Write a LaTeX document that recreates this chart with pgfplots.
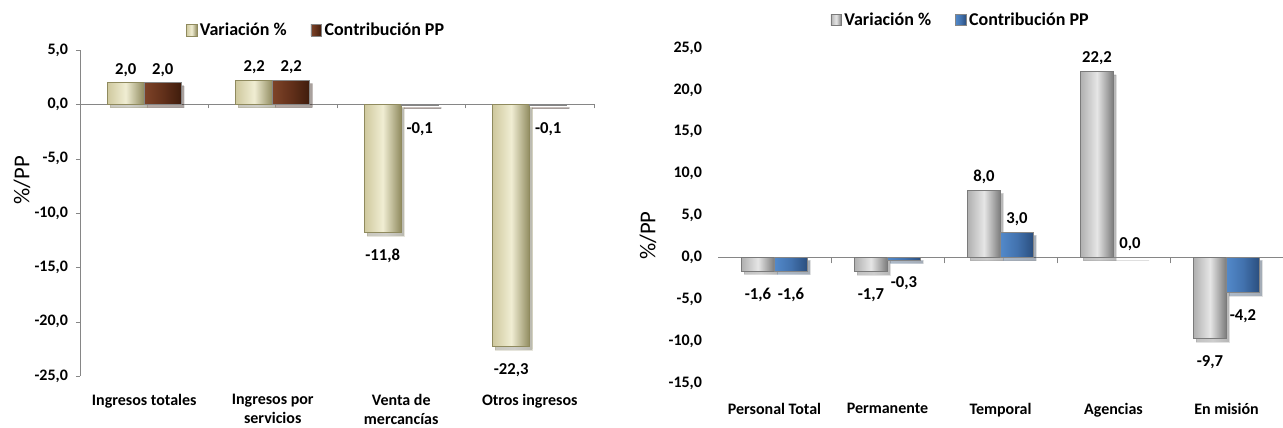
\documentclass[border=0pt]{standalone}
\usepackage{pgfplots}
\pgfplotsset{compat=1.18}
\usetikzlibrary{shadows}
\usepackage{fontspec}
\setmainfont{Carlito}
\definecolor{khakiL}{HTML}{CFC99E}
\definecolor{khakiM}{HTML}{F0EDD3}
\definecolor{khakiR}{HTML}{8F8A5E}
\definecolor{brownL}{HTML}{7E4328}
\definecolor{brownM}{HTML}{62301A}
\definecolor{brownR}{HTML}{3F1C0C}
\definecolor{grayL}{HTML}{B0B0B0}
\definecolor{grayM}{HTML}{E6E6E6}
\definecolor{grayR}{HTML}{7A7A7A}
\definecolor{blueL}{HTML}{5289CA}
\definecolor{blueM}{HTML}{4272AE}
\definecolor{blueR}{HTML}{2A4E7E}
\definecolor{axgray}{HTML}{868686}
\pgfplotsset{
  common/.style={
    scale only axis,
    /pgf/number format/assume math mode=true,
    /pgf/number format/fixed,
    /pgf/number format/fixed zerofill,
    /pgf/number format/precision=1,
    /pgf/number format/use comma,
    tick label style={font=\fontsize{12}{14}\selectfont\bfseries},
    ybar=0pt,
    nodes near coords={\pgfmathprintnumber[fixed,fixed zerofill,precision=1,use comma,assume math mode=true]{\pgfplotspointmeta}},
    every node near coord/.append style={font=\fontsize{12.5}{14}\selectfont\bfseries, inner sep=4.5pt},
    tick align=outside,
    axis x line*=middle,
    axis line style={draw=axgray},
    legend columns=2,
    legend style={draw=none, fill=none, font=\fontsize{13.5}{15}\selectfont\bfseries,
      /tikz/every even column/.append style={column sep=16pt}},
    legend image code/.code={\filldraw[##1] (0pt,-4pt) rectangle (8pt,4.5pt);},
    ylabel={\%/PP},
    ylabel style={font=\fontsize{17}{19}\selectfont},
  },
  shad/.style={drop shadow={shadow xshift=2pt, shadow yshift=-2.5pt, opacity=0.22, fill=black}},
  varL/.style={draw=khakiR, left color=khakiL, right color=khakiR, middle color=khakiM},
  conL/.style={draw=axgray, left color=brownL, right color=brownR, middle color=brownM},
  varR/.style={draw=grayR, left color=grayL, right color=grayR, middle color=grayM},
  conR/.style={draw=axgray, left color=blueL, right color=blueR, middle color=blueM},
  neg/.style={every node near coord/.append style={yshift=-8pt}},
  pos/.style={},
}
% one bar: style, shift, coordinate, label placement
\newcommand\onebar[4]{\addplot[forget plot, shad, #1, bar shift=#2, #4] coordinates {#3};}
\begin{document}
\begin{tikzpicture}
\useasboundingbox (0,0) rectangle (962.25pt,321pt);
% ---------- left panel ----------
\begin{axis}[common,
  at={(60pt,39pt)}, anchor=south west,
  width=385.5pt, height=244.5pt,
  xmin=-0.5, xmax=3.5, ymin=-25, ymax=5,
  ytick={-25,-20,...,5},
  axis y line*=left,
  y axis line style={draw=axgray},
  ytick style={draw=axgray},
  major tick length=3pt,
  yticklabel style={xshift=-2.5pt},
  bar width=27.75pt,
  xtick={0.5,1.5,2.5,3.5}, xticklabels={},
  xtick style={draw=axgray},
  extra x ticks={0,1,2,3},
  extra x tick labels={Ingresos totales,{Ingresos por\\servicios},{Venta de\\mercancías},Otros ingresos},
  extra x tick style={major tick length=0pt, tick label style={align=center, yshift=-214pt}},
  ylabel style={at={(axis description cs:-0.113,0.60)}, anchor=center},
  legend style={at={(0.46,1.02)}, anchor=south},
]
% Variación %
\onebar{varL}{-13.875pt}{(0,2.0)}{pos}
\onebar{varL}{-13.875pt}{(1,2.2)}{pos}
\onebar{varL}{-13.875pt}{(2,-11.8)}{neg}
\onebar{varL}{-13.875pt}{(3,-22.3)}{neg}
% Contribución PP
\onebar{conL}{13.875pt}{(0,2.0)}{pos}
\onebar{conL}{13.875pt}{(1,2.2)}{pos}
\onebar{conL}{13.875pt}{(2,-0.1)}{neg}
\onebar{conL}{13.875pt}{(3,-0.1)}{neg}
\addlegendimage{varL}
\addlegendentry{Variación \%}
\addlegendimage{conL}
\addlegendentry{Contribución PP}
\end{axis}
% ---------- right panel ----------
\begin{axis}[common,
  at={(538.5pt,33.75pt)}, anchor=south west,
  width=423.75pt, height=251.25pt,
  xmin=-0.5, xmax=4.5, ymin=-15, ymax=25,
  ytick={-15,-10,...,25},
  axis y line*=left,
  y axis line style={draw=none},
  ytick style={draw=none},
  major tick length=4.5pt,
  yticklabel style={xshift=-4pt},
  bar width=24.75pt,
  xtick={0.5,1.5,2.5,3.5,4.5}, xticklabels={},
  xtick style={draw=axgray},
  extra x ticks={0,1,2,3,4},
  extra x tick labels={Personal Total,Permanente,Temporal,Agencias,En misión},
  extra x tick style={major tick length=0pt, tick label style={yshift=-106pt}},
  ylabel style={at={(axis description cs:-0.124,0.44)}, anchor=center},
  legend style={at={(0.43,1.045)}, anchor=south},
]
% Variación %
\onebar{varR}{-12.375pt}{(0,-1.6)}{neg}
\onebar{varR}{-12.375pt}{(1,-1.7)}{neg}
\onebar{varR}{-12.375pt}{(2,8.0)}{pos}
\onebar{varR}{-12.375pt}{(3,22.2)}{pos}
\onebar{varR}{-12.375pt}{(4,-9.7)}{neg}
% Contribución PP
\onebar{conR}{12.375pt}{(0,-1.6)}{neg}
\onebar{conR}{12.375pt}{(1,-0.3)}{neg}
\onebar{conR}{12.375pt}{(2,3.0)}{pos}
\onebar{conR}{12.375pt}{(3,0.0)}{pos}
\onebar{conR}{12.375pt}{(4,-4.2)}{neg}
\addlegendimage{varR}
\addlegendentry{Variación \%}
\addlegendimage{conR}
\addlegendentry{Contribución PP}
\end{axis}
\end{tikzpicture}
\end{document}
